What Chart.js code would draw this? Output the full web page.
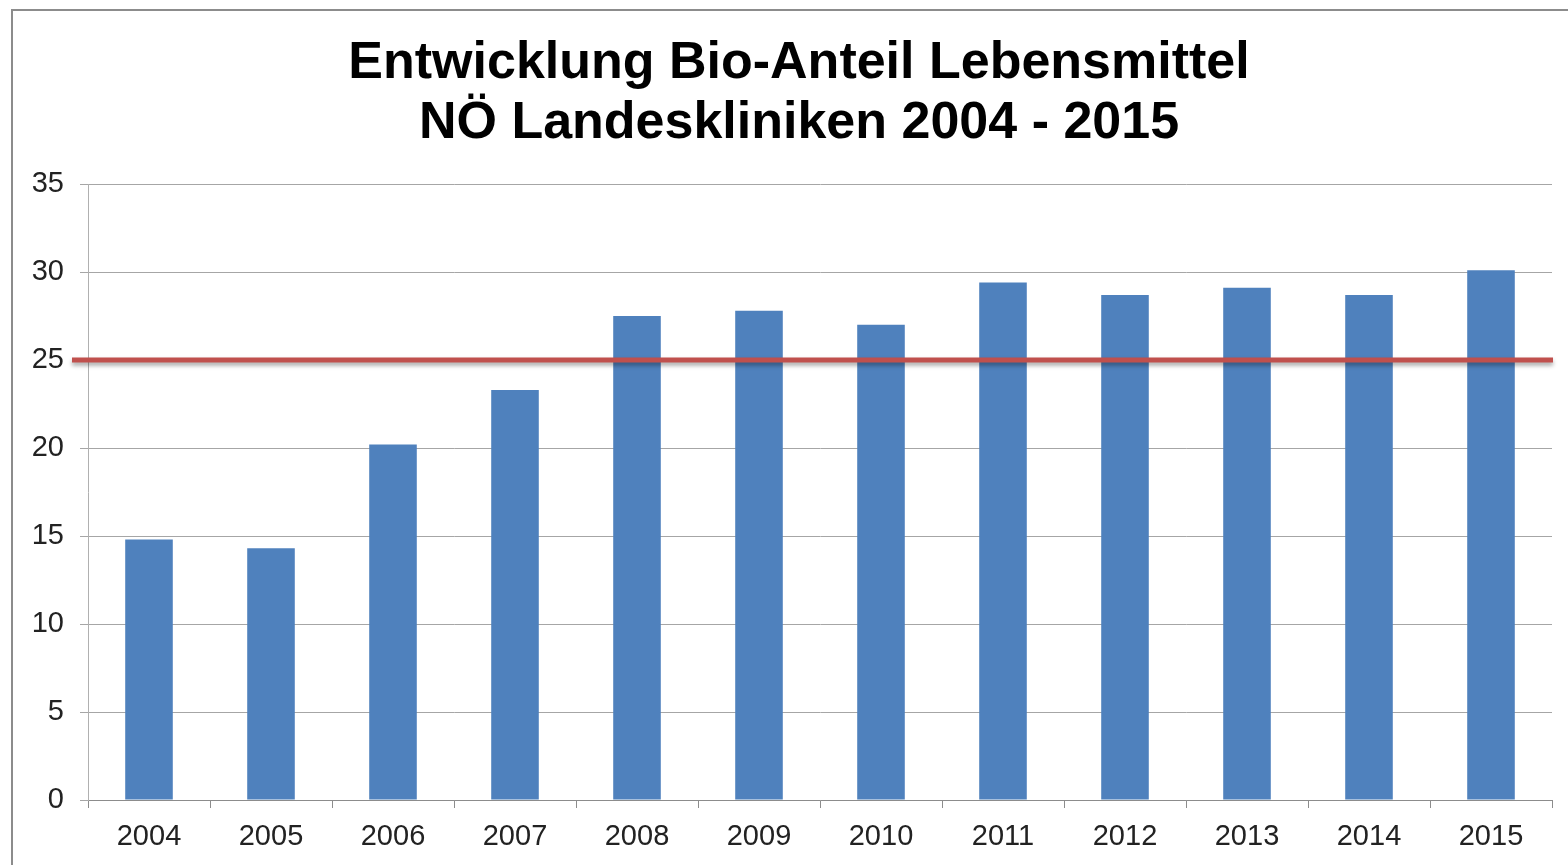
<!DOCTYPE html>
<html>
<head>
<meta charset="utf-8">
<script src="https://cdn.jsdelivr.net/npm/chart.js@4.4.1/dist/chart.umd.min.js"></script>
<style>
    body { margin: 0; background: #fff; overflow: hidden; }
    #frame {
        position: absolute;
        left: 11px;
        top: 9px;
        width: 1560px;
        height: 854px;
        border-left: 2px solid #8c8c8c;
        border-top: 2px solid #8c8c8c;
    }
</style>
</head>
<body>
<div id="frame"><canvas id="bioChart" width="1572" height="854"></canvas></div>
<script>
const years = ['2004', '2005', '2006', '2007', '2008', '2009', '2010', '2011', '2012', '2013', '2014', '2015'];
const bioShare = [14.8, 14.3, 20.2, 23.3, 27.5, 27.8, 27.0, 29.4, 28.7, 29.1, 28.7, 30.1];
const targetShare = 25;
const titleLines = ['Entwicklung Bio-Anteil Lebensmittel', 'NÖ Landeskliniken 2004 - 2015'];

// red target line with a soft shadow, reaching a bit past the y axis
const targetLine = {
    id: 'targetLine',
    afterDatasetsDraw(chart) {
        const ctx = chart.ctx;
        const area = chart.chartArea;
        const y = chart.scales.y.getPixelForValue(targetShare);
        ctx.save();
        ctx.strokeStyle = '#C0504D';
        ctx.lineWidth = 5;
        ctx.shadowColor = 'rgba(0, 0, 0, 0.35)';
        ctx.shadowBlur = 4;
        ctx.shadowOffsetY = 3;
        ctx.beginPath();
        ctx.moveTo(area.left - 16, y);
        ctx.lineTo(area.right + 1, y);
        ctx.stroke();
        ctx.restore();
    }
};

var myChart = new Chart(document.getElementById('bioChart'), {
    type: 'bar',
    data: {
        labels: years,
        datasets: [{
            label: 'Bio-Anteil',
            backgroundColor: '#4F81BD',
            data: bioShare,
            categoryPercentage: 1,
            barPercentage: 0.39
        }]
    },
    options: {
        responsive: false,
        animation: false,
        layout: {
            padding: 0
        },
        plugins: {
            legend: { display: false },
            tooltip: { enabled: false },
            title: {
                display: true,
                text: titleLines,
                color: '#000',
                font: {
                    family: "'Liberation Sans', Arial, sans-serif",
                    size: 52,
                    weight: 'bold',
                    lineHeight: 1.154
                },
                padding: { top: 23, bottom: 30 }
            }
        },
        scales: {
            x: {
                grid: {
                    offset: true,
                    drawOnChartArea: false,
                    drawTicks: true,
                    tickLength: 8,
                    color: '#8c8c8c'
                },
                border: { color: '#8c8c8c' },
                ticks: {
                    color: '#222',
                    padding: 12,
                    font: { family: "'Liberation Sans', Arial, sans-serif", size: 29 }
                },
                afterFit(scale) { scale.height = 65; }
            },
            y: {
                min: 0,
                max: 35,
                ticks: {
                    stepSize: 5,
                    color: '#222',
                    padding: 16,
                    font: { family: "'Liberation Sans', Arial, sans-serif", size: 29 }
                },
                grid: {
                    color: '#a6a6a6',
                    tickLength: 8
                },
                border: { color: '#b0b0b0' },
                afterFit(scale) { scale.width = 75; }
            },
            // empty right margin so the title centre sits where the original has it
            spacer: {
                type: 'linear',
                position: 'right',
                ticks: { display: false },
                grid: { display: false },
                border: { display: false },
                afterFit(scale) { scale.width = 33; }
            }
        }
    },
    plugins: [targetLine]
});
</script>
</body>
</html>
